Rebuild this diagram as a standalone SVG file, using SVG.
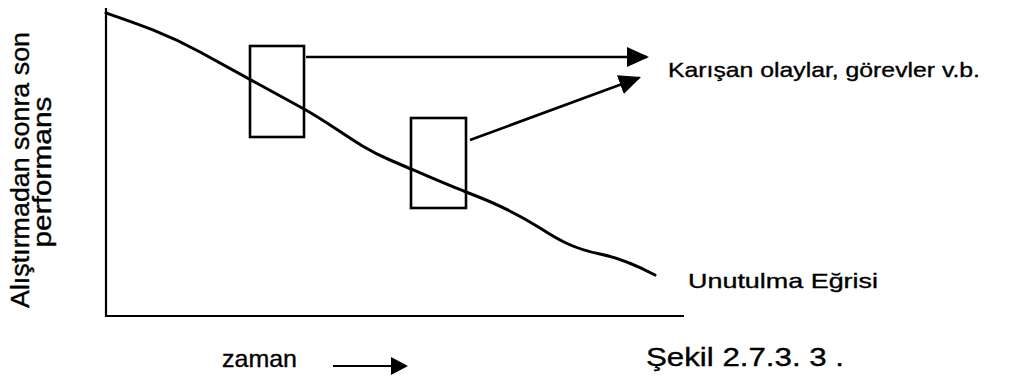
<svg xmlns="http://www.w3.org/2000/svg" width="1025" height="376" viewBox="0 0 1025 376">
  <style>
    .ink { fill: none; stroke: #000; stroke-linecap: butt; }
    .axis { stroke-width: 2.2; }
    .box { fill: none; stroke: #000; stroke-width: 2.6; }
    .curve { stroke-width: 3; stroke-linejoin: round; stroke-linecap: round; }
    .conn { stroke-width: 2.6; }
    .lbl { font-family: "Liberation Sans", Arial, Helvetica, sans-serif; fill: #000; stroke: #000; stroke-width: 0.35; }
  </style>
  <defs>
    <marker id="head" viewBox="0 0 22 20" refX="20" refY="10" markerWidth="22" markerHeight="20" markerUnits="userSpaceOnUse" orient="auto">
      <path d="M0,0 L22,10 L0,20 Z" fill="#000"/>
    </marker>
    <marker id="headSmall" viewBox="0 0 17 18" refX="15" refY="9" markerWidth="17" markerHeight="18" markerUnits="userSpaceOnUse" orient="auto">
      <path d="M0,0 L17,9 L0,18 Z" fill="#000"/>
    </marker>
  </defs>

  <!-- axes -->
  <g id="axes">
    <path class="ink axis" d="M106,8 L106,316 L684,316"/>
  </g>

  <!-- forgetting curve -->
  <g id="curve">
    <path class="ink curve" d="M106,13 C135,23 165,33 200,52 S270,90 304,109 S355,145 390,160 S445,184 466,192 C490,201 515,212 540,228 C560,241 575,249 600,254 C620,258 638,266 655,275"/>
  </g>

  <!-- interference windows -->
  <g id="box1">
    <rect class="box" x="250" y="46" width="54" height="91"/>
  </g>
  <g id="box2">
    <rect class="box" x="411" y="118" width="55" height="90"/>
  </g>

  <!-- connectors -->
  <g id="connectors">
    <line class="ink conn" x1="306" y1="57" x2="647" y2="57" marker-end="url(#head)"/>
    <line class="ink conn" x1="470" y1="140" x2="639.1" y2="77.7" marker-end="url(#head)"/>
    <line class="ink" stroke-width="2" x1="333" y1="366" x2="406" y2="366" marker-end="url(#headSmall)"/>
  </g>

  <!-- labels -->
  <g id="label-events">
    <text class="lbl" x="668" y="77" font-size="21" textLength="312" lengthAdjust="spacingAndGlyphs">Karışan olaylar, görevler v.b.</text>
  </g>
  <g id="label-curve">
    <text class="lbl" x="688" y="288" font-size="21" textLength="190" lengthAdjust="spacingAndGlyphs">Unutulma Eğrisi</text>
  </g>
  <g id="label-y">
    <text class="lbl" transform="translate(29,170) rotate(-90)" text-anchor="middle" font-size="25" textLength="276" lengthAdjust="spacingAndGlyphs">Alıştırmadan sonra son</text>
    <text class="lbl" transform="translate(51,172) rotate(-90)" text-anchor="middle" font-size="25" textLength="151" lengthAdjust="spacingAndGlyphs">performans</text>
  </g>
  <g id="label-x">
    <text class="lbl" x="222" y="367" font-size="24" textLength="75" lengthAdjust="spacingAndGlyphs">zaman</text>
  </g>
  <g id="caption">
    <text class="lbl" x="646" y="366" font-size="25" textLength="198" lengthAdjust="spacingAndGlyphs">Şekil 2.7.3. 3 .</text>
  </g>
</svg>
